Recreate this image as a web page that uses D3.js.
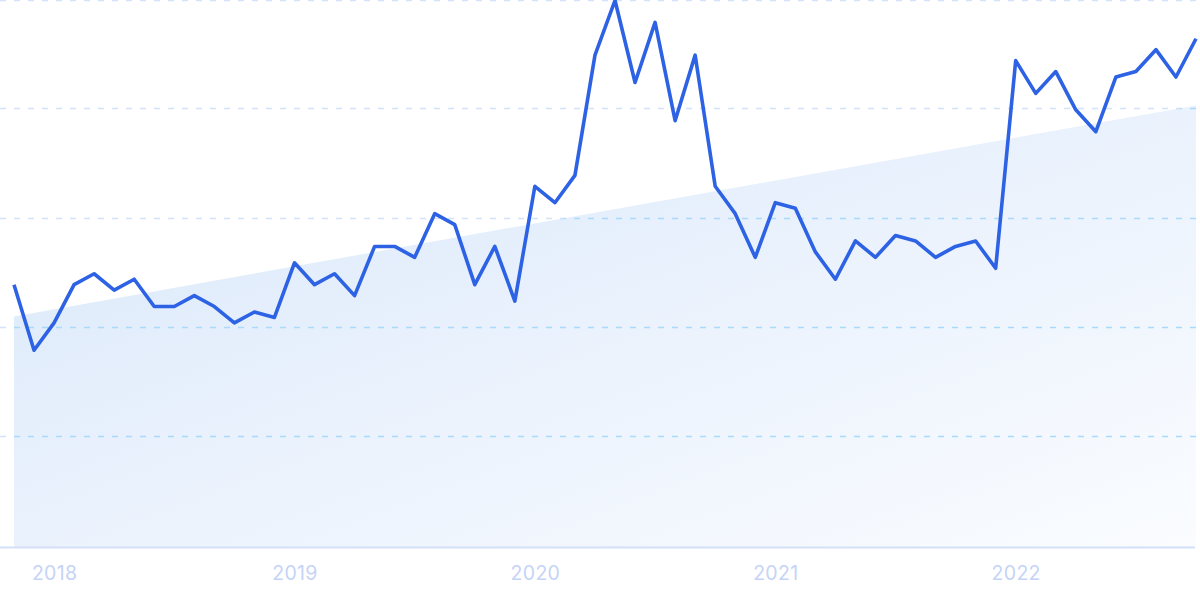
<!DOCTYPE html>
<html>
<head>
<meta charset="utf-8">
<script src="https://cdn.jsdelivr.net/npm/d3@7"></script>
<style>
  html, body { margin: 0; padding: 0; background: #ffffff; }
  svg { display: block; }
</style>
</head>
<body>
<svg id="chart" width="1200" height="599"></svg>
<script>
// ---- data ----
const months = [
  "2017-11","2017-12",
  "2018-01","2018-02","2018-03","2018-04","2018-05","2018-06","2018-07","2018-08","2018-09","2018-10","2018-11","2018-12",
  "2019-01","2019-02","2019-03","2019-04","2019-05","2019-06","2019-07","2019-08","2019-09","2019-10","2019-11","2019-12",
  "2020-01","2020-02","2020-03","2020-04","2020-05","2020-06","2020-07","2020-08","2020-09","2020-10","2020-11","2020-12",
  "2021-01","2021-02","2021-03","2021-04","2021-05","2021-06","2021-07","2021-08","2021-09","2021-10","2021-11","2021-12",
  "2022-01","2022-02","2022-03","2022-04","2022-05","2022-06","2022-07","2022-08","2022-09","2022-10"
];
const values = [
  48, 36,
  41, 48, 50, 47, 49, 44, 44, 46, 44, 41, 43, 42,
  52, 48, 50, 46, 55, 55, 53, 61, 59, 48, 55, 45,
  66, 63, 68, 90, 100, 85, 96, 78, 90, 66, 61, 53,
  63, 62, 54, 49, 56, 53, 57, 56, 53, 55, 56, 51,
  89, 83, 87, 80, 76, 86, 87, 91, 86, 93
];
const trendValues = [42.2, 80.8];        // start / end of the trend band
const yTicks = [0, 20, 40, 60, 80, 100];
const tickMonths = ["2018-01","2019-01","2020-01","2021-01","2022-01"];
const tickLabels = ["2018","2019","2020","2021","2022"];

// ---- layout ----
const svg = d3.select("#chart");
const x = d3.scalePoint().domain(months).range([14, 1196]);
const y = d3.scaleLinear().domain([0, 100]).range([547, 0.5]);
const gy = d => Math.max(0.5, Math.floor(y(d)) - 0.5);

const defs = svg.append("defs");
const grad = defs.append("linearGradient")
  .attr("id", "trendGrad")
  .attr("x1", "0").attr("y1", "0").attr("x2", "1").attr("y2", "1");
grad.append("stop").attr("offset", "0%").attr("stop-color", "#d8e7fa");
grad.append("stop").attr("offset", "55%").attr("stop-color", "#ecf3fd");
grad.append("stop").attr("offset", "100%").attr("stop-color", "#fafcff");

const trendData = [
  { m: months[0], v: trendValues[0] },
  { m: months[months.length - 1], v: trendValues[1] }
];
const trendArea = d3.area()
  .x(d => x(d.m))
  .y0(y(0))
  .y1(d => y(d.v));

defs.append("clipPath").attr("id", "trendClip")
  .append("path").attr("d", trendArea(trendData));

// grid lines (outside the band)
const gridTicks = yTicks.filter(t => t > 0);
svg.append("g").selectAll("line").data(gridTicks).join("line")
  .attr("x1", 0).attr("x2", 1196)
  .attr("y1", gy).attr("y2", gy)
  .attr("stroke", "#d2e3fa").attr("stroke-width", 1.3)
  .attr("stroke-dasharray", "6 8");

// trend band
svg.append("path")
  .attr("d", trendArea(trendData))
  .attr("fill", "url(#trendGrad)");

// grid lines inside the band (more cyan)
svg.append("g").attr("clip-path", "url(#trendClip)")
  .selectAll("line").data(gridTicks).join("line")
  .attr("x1", 0).attr("x2", 1196)
  .attr("y1", gy).attr("y2", gy)
  .attr("stroke", "#a9dafc").attr("stroke-width", 1.3)
  .attr("stroke-dasharray", "6 8");

// baseline
svg.append("line")
  .attr("x1", 0).attr("x2", 1195)
  .attr("y1", y(0) + 0.5).attr("y2", y(0) + 0.5)
  .attr("stroke", "#d3e0f7").attr("stroke-width", 2);

// x axis
const xAxis = d3.axisBottom(x)
  .tickValues(tickMonths)
  .tickSize(0)
  .tickPadding(0)
  .tickFormat(m => tickLabels[tickMonths.indexOf(m)]);
const axG = svg.append("g").attr("transform", `translate(0, ${y(0)})`).call(xAxis);
axG.select(".domain").remove();
axG.selectAll("text")
  .attr("dy", null)
  .attr("y", 33)
  .attr("fill", "#c5d4f6")
  .style("font-family", "Inter, 'Noto Sans', sans-serif")
  .style("font-size", "19.5px")
  .style("letter-spacing", "0.3px");

// main line
const line = d3.line()
  .x((d, i) => x(months[i]))
  .y(d => y(d));
svg.append("path")
  .datum(values)
  .attr("d", line)
  .attr("fill", "none")
  .attr("stroke", "#2c62e3")
  .attr("stroke-width", 3.6)
  .attr("stroke-linejoin", "round")
  .attr("stroke-linecap", "butt");
</script>
</body>
</html>
